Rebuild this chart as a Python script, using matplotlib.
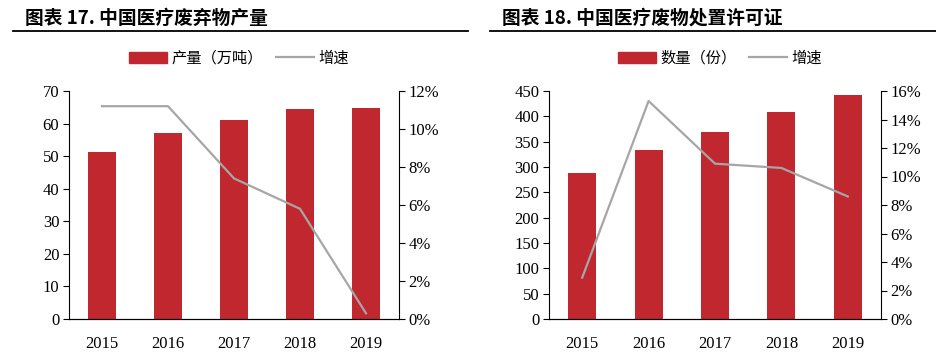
import matplotlib
matplotlib.use("Agg")
import matplotlib.pyplot as plt
from matplotlib.patches import Patch
from matplotlib.lines import Line2D
from matplotlib.ticker import FuncFormatter, MultipleLocator

plt.rcParams['font.family'] = ['Noto Sans CJK SC', 'DejaVu Sans']

years = ["2015", "2016", "2017", "2018", "2019"]

# 图表17 中国医疗废弃物产量
waste_output = [51.2, 57.0, 61.1, 64.5, 64.9]
waste_growth = [11.2, 11.2, 7.4, 5.8, 0.3]

# 图表18 中国医疗废物处置许可证
permit_count = [289, 333, 369, 408, 443]
permit_growth = [2.9, 15.3, 10.9, 10.6, 8.6]

W, H = 936, 361
BAR = "#C0272F"
LINE = "#A6A6A6"
SERIF = "Liberation Serif"

fig = plt.figure(figsize=(W / 100, H / 100), dpi=100)


def px_axes(x0, y0, x1, y1):
    return fig.add_axes([x0 / W, 1 - y1 / H, (x1 - x0) / W, (y1 - y0) / H])


def draw_panel(left, right, title, title_x, line_x0, line_x1, bars, growth,
               bar_label, ymax, ystep, gmax):
    fig.text(title_x / W, 1 - 18 / H, title, fontsize=13.5, fontweight="bold",
             va="center", ha="left")
    fig.add_artist(Line2D([line_x0 / W, line_x1 / W], [1 - 31 / H, 1 - 31 / H],
                          color="black", lw=1.3))

    ax = px_axes(left, 91, right, 319)
    x = range(len(years))
    ax.bar(x, bars, width=0.42, color=BAR, zorder=2)
    ax.set_xlim(-0.5, len(years) - 0.5)
    ax.set_ylim(0, ymax)
    ax.yaxis.set_major_locator(MultipleLocator(ystep))
    ax.set_xticks(list(x))
    ax.set_xticklabels(years)
    ax.tick_params(axis="x", length=0, pad=12)
    ax.tick_params(axis="y", direction="out", length=4, pad=3)
    for lab in ax.get_xticklabels() + ax.get_yticklabels():
        lab.set_fontfamily(SERIF)
        lab.set_fontsize(12)
    ax.spines["top"].set_visible(False)
    ax.spines["right"].set_visible(False)

    ax2 = ax.twinx()
    ax2.plot(list(x), growth, color=LINE, lw=1.6, zorder=3)
    ax2.set_ylim(0, gmax)
    ax2.yaxis.set_major_locator(MultipleLocator(2))
    ax2.yaxis.set_major_formatter(FuncFormatter(lambda v, p: f"{v:.0f}%"))
    ax2.tick_params(axis="y", direction="out", length=4, pad=3)
    for lab in ax2.get_yticklabels():
        lab.set_fontfamily(SERIF)
        lab.set_fontsize(12)
    ax2.spines["top"].set_visible(False)
    ax2.spines["left"].set_visible(False)

    handles = [Patch(color=BAR, label=bar_label),
               Line2D([], [], color=LINE, lw=1.6, label="增速")]
    cx = ((left + right) / 2 + 5) / W
    fig.legend(handles=handles, loc="center", bbox_to_anchor=(cx, 1 - 58 / H),
               ncol=2, frameon=False, fontsize=11, handlelength=2.5,
               handleheight=0.75, columnspacing=0.8, handletextpad=0.3)


draw_panel(69, 399, "图表 17. 中国医疗废弃物产量", 25, 13, 468,
           waste_output, waste_growth, "产量（万吨）", 70, 10, 12)
draw_panel(549, 881, "图表 18. 中国医疗废物处置许可证", 502, 490, 936,
           permit_count, permit_growth, "数量（份）", 450, 50, 16)

fig.savefig("out.png", dpi=100)
